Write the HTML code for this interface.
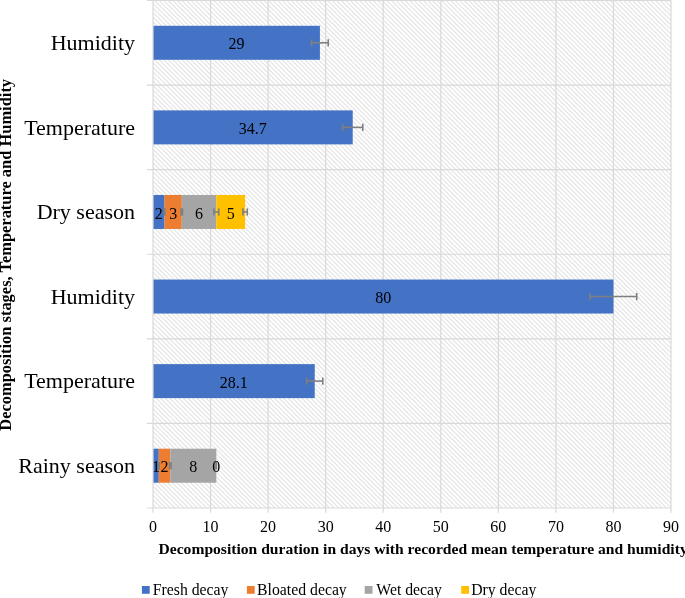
<!DOCTYPE html><html><head><meta charset="utf-8"><style>html,body{margin:0;padding:0;background:#fff;}svg{display:block;will-change:transform;}text{font-family:"Liberation Serif",serif;}</style></head><body>
<svg width="685" height="598" viewBox="0 0 685 598">
<defs><pattern id="h" patternUnits="userSpaceOnUse" width="10" height="3.22" patternTransform="rotate(45)"><rect x="0" y="0" width="10" height="3.22" fill="#fff"/><rect x="0" y="0" width="10" height="1.0" fill="#dfdfdf"/></pattern></defs>
<rect x="153.0" y="0.5" width="518.0" height="507.5" fill="url(#h)"/>
<line x1="210.56" y1="0.5" x2="210.56" y2="508.0" stroke="#d9d9d9" stroke-width="1.2"/>
<line x1="268.11" y1="0.5" x2="268.11" y2="508.0" stroke="#d9d9d9" stroke-width="1.2"/>
<line x1="325.67" y1="0.5" x2="325.67" y2="508.0" stroke="#d9d9d9" stroke-width="1.2"/>
<line x1="383.22" y1="0.5" x2="383.22" y2="508.0" stroke="#d9d9d9" stroke-width="1.2"/>
<line x1="440.78" y1="0.5" x2="440.78" y2="508.0" stroke="#d9d9d9" stroke-width="1.2"/>
<line x1="498.33" y1="0.5" x2="498.33" y2="508.0" stroke="#d9d9d9" stroke-width="1.2"/>
<line x1="555.89" y1="0.5" x2="555.89" y2="508.0" stroke="#d9d9d9" stroke-width="1.2"/>
<line x1="613.44" y1="0.5" x2="613.44" y2="508.0" stroke="#d9d9d9" stroke-width="1.2"/>
<line x1="671.00" y1="0.5" x2="671.00" y2="508.0" stroke="#d9d9d9" stroke-width="1.2"/>
<line x1="147" y1="0.50" x2="671.0" y2="0.50" stroke="#d9d9d9" stroke-width="1.2"/>
<line x1="147" y1="85.08" x2="671.0" y2="85.08" stroke="#d9d9d9" stroke-width="1.2"/>
<line x1="147" y1="169.67" x2="671.0" y2="169.67" stroke="#d9d9d9" stroke-width="1.2"/>
<line x1="147" y1="254.25" x2="671.0" y2="254.25" stroke="#d9d9d9" stroke-width="1.2"/>
<line x1="147" y1="338.83" x2="671.0" y2="338.83" stroke="#d9d9d9" stroke-width="1.2"/>
<line x1="147" y1="423.42" x2="671.0" y2="423.42" stroke="#d9d9d9" stroke-width="1.2"/>
<line x1="147" y1="508.00" x2="671.0" y2="508.00" stroke="#d9d9d9" stroke-width="1.2"/>
<line x1="153.00" y1="508.0" x2="153.00" y2="512.7" stroke="#d9d9d9" stroke-width="1.2"/>
<line x1="210.56" y1="508.0" x2="210.56" y2="512.7" stroke="#d9d9d9" stroke-width="1.2"/>
<line x1="268.11" y1="508.0" x2="268.11" y2="512.7" stroke="#d9d9d9" stroke-width="1.2"/>
<line x1="325.67" y1="508.0" x2="325.67" y2="512.7" stroke="#d9d9d9" stroke-width="1.2"/>
<line x1="383.22" y1="508.0" x2="383.22" y2="512.7" stroke="#d9d9d9" stroke-width="1.2"/>
<line x1="440.78" y1="508.0" x2="440.78" y2="512.7" stroke="#d9d9d9" stroke-width="1.2"/>
<line x1="498.33" y1="508.0" x2="498.33" y2="512.7" stroke="#d9d9d9" stroke-width="1.2"/>
<line x1="555.89" y1="508.0" x2="555.89" y2="512.7" stroke="#d9d9d9" stroke-width="1.2"/>
<line x1="613.44" y1="508.0" x2="613.44" y2="512.7" stroke="#d9d9d9" stroke-width="1.2"/>
<line x1="671.00" y1="508.0" x2="671.00" y2="512.7" stroke="#d9d9d9" stroke-width="1.2"/>
<rect x="153.00" y="25.79" width="166.91" height="34.0" fill="#4472C4"/>
<g stroke="#7f7f7f" stroke-width="1.6" fill="none"><line x1="311.57" y1="42.79" x2="328.26" y2="42.79"/><line x1="311.57" y1="39.19" x2="311.57" y2="46.39"/><line x1="328.26" y1="39.19" x2="328.26" y2="46.39"/></g>
<text x="236.46" y="49.39" font-size="16" text-anchor="middle" fill="#000">29</text>
<rect x="153.00" y="110.38" width="199.72" height="34.0" fill="#4472C4"/>
<g stroke="#7f7f7f" stroke-width="1.6" fill="none"><line x1="342.65" y1="127.38" x2="362.79" y2="127.38"/><line x1="342.65" y1="123.78" x2="342.65" y2="130.97"/><line x1="362.79" y1="123.78" x2="362.79" y2="130.97"/></g>
<text x="252.86" y="133.97" font-size="16" text-anchor="middle" fill="#000">34.7</text>
<rect x="153.00" y="194.96" width="11.51" height="34.0" fill="#4472C4"/>
<rect x="164.51" y="194.96" width="17.27" height="34.0" fill="#ED7D31"/>
<rect x="181.78" y="194.96" width="34.53" height="34.0" fill="#A5A5A5"/>
<rect x="216.31" y="194.96" width="28.78" height="34.0" fill="#FFC000"/>
<g stroke="#7f7f7f" stroke-width="1.6" fill="none"><line x1="164.17" y1="211.96" x2="164.86" y2="211.96"/><line x1="164.17" y1="208.36" x2="164.17" y2="215.56"/><line x1="164.86" y1="208.36" x2="164.86" y2="215.56"/></g>
<g stroke="#7f7f7f" stroke-width="1.6" fill="none"><line x1="181.09" y1="211.96" x2="182.47" y2="211.96"/><line x1="181.09" y1="208.36" x2="181.09" y2="215.56"/><line x1="182.47" y1="208.36" x2="182.47" y2="215.56"/></g>
<g stroke="#7f7f7f" stroke-width="1.6" fill="none"><line x1="213.89" y1="211.96" x2="218.73" y2="211.96"/><line x1="213.89" y1="208.36" x2="213.89" y2="215.56"/><line x1="218.73" y1="208.36" x2="218.73" y2="215.56"/></g>
<g stroke="#7f7f7f" stroke-width="1.6" fill="none"><line x1="242.90" y1="211.96" x2="247.28" y2="211.96"/><line x1="242.90" y1="208.36" x2="242.90" y2="215.56"/><line x1="247.28" y1="208.36" x2="247.28" y2="215.56"/></g>
<text x="158.76" y="218.56" font-size="16" text-anchor="middle" fill="#000">2</text>
<text x="173.14" y="218.56" font-size="16" text-anchor="middle" fill="#000">3</text>
<text x="199.04" y="218.56" font-size="16" text-anchor="middle" fill="#000">6</text>
<text x="230.70" y="218.56" font-size="16" text-anchor="middle" fill="#000">5</text>
<rect x="153.00" y="279.54" width="460.44" height="34.0" fill="#4472C4"/>
<g stroke="#7f7f7f" stroke-width="1.6" fill="none"><line x1="590.13" y1="296.54" x2="636.75" y2="296.54"/><line x1="590.13" y1="292.94" x2="590.13" y2="300.14"/><line x1="636.75" y1="292.94" x2="636.75" y2="300.14"/></g>
<text x="383.22" y="303.14" font-size="16" text-anchor="middle" fill="#000">80</text>
<rect x="153.00" y="364.12" width="161.73" height="34.0" fill="#4472C4"/>
<g stroke="#7f7f7f" stroke-width="1.6" fill="none"><line x1="306.67" y1="381.12" x2="322.79" y2="381.12"/><line x1="306.67" y1="377.52" x2="306.67" y2="384.73"/><line x1="322.79" y1="377.52" x2="322.79" y2="384.73"/></g>
<text x="233.87" y="387.73" font-size="16" text-anchor="middle" fill="#000">28.1</text>
<rect x="153.00" y="448.71" width="5.76" height="34.0" fill="#4472C4"/>
<rect x="158.76" y="448.71" width="11.51" height="34.0" fill="#ED7D31"/>
<rect x="170.27" y="448.71" width="46.04" height="34.0" fill="#A5A5A5"/>
<g stroke="#7f7f7f" stroke-width="1.6" fill="none"><line x1="158.41" y1="465.71" x2="159.10" y2="465.71"/><line x1="158.41" y1="462.11" x2="158.41" y2="469.31"/><line x1="159.10" y1="462.11" x2="159.10" y2="469.31"/></g>
<g stroke="#7f7f7f" stroke-width="1.6" fill="none"><line x1="169.58" y1="465.71" x2="170.96" y2="465.71"/><line x1="169.58" y1="462.11" x2="169.58" y2="469.31"/><line x1="170.96" y1="462.11" x2="170.96" y2="469.31"/></g>
<g stroke="#7f7f7f" stroke-width="1.6" fill="none"><line x1="216.31" y1="465.71" x2="216.31" y2="465.71"/><line x1="216.31" y1="462.11" x2="216.31" y2="469.31"/><line x1="216.31" y1="462.11" x2="216.31" y2="469.31"/></g>
<text x="155.88" y="472.31" font-size="16" text-anchor="middle" fill="#000">1</text>
<text x="164.51" y="472.31" font-size="16" text-anchor="middle" fill="#000">2</text>
<text x="193.29" y="472.31" font-size="16" text-anchor="middle" fill="#000">8</text>
<text x="216.31" y="472.31" font-size="16" text-anchor="middle" fill="#000">0</text>
<line x1="153.0" y1="0.5" x2="153.0" y2="508.0" stroke="#d9d9d9" stroke-width="1.2"/>
<text x="135" y="50.09" font-size="22" text-anchor="end" fill="#000">Humidity</text>
<text x="135" y="134.68" font-size="22" text-anchor="end" fill="#000">Temperature</text>
<text x="135" y="219.26" font-size="22" text-anchor="end" fill="#000">Dry season</text>
<text x="135" y="303.84" font-size="22" text-anchor="end" fill="#000">Humidity</text>
<text x="135" y="388.43" font-size="22" text-anchor="end" fill="#000">Temperature</text>
<text x="135" y="473.01" font-size="22" text-anchor="end" fill="#000">Rainy season</text>
<text x="153.00" y="531.8" font-size="16" text-anchor="middle" fill="#000">0</text>
<text x="210.56" y="531.8" font-size="16" text-anchor="middle" fill="#000">10</text>
<text x="268.11" y="531.8" font-size="16" text-anchor="middle" fill="#000">20</text>
<text x="325.67" y="531.8" font-size="16" text-anchor="middle" fill="#000">30</text>
<text x="383.22" y="531.8" font-size="16" text-anchor="middle" fill="#000">40</text>
<text x="440.78" y="531.8" font-size="16" text-anchor="middle" fill="#000">50</text>
<text x="498.33" y="531.8" font-size="16" text-anchor="middle" fill="#000">60</text>
<text x="555.89" y="531.8" font-size="16" text-anchor="middle" fill="#000">70</text>
<text x="613.44" y="531.8" font-size="16" text-anchor="middle" fill="#000">80</text>
<text x="671.00" y="531.8" font-size="16" text-anchor="middle" fill="#000">90</text>
<text x="158.5" y="553.9" font-size="15.6" font-weight="bold" fill="#000">Decomposition duration in days with recorded mean temperature and humidity</text>
<text transform="translate(11.3,254.8) rotate(-90)" x="0" y="0" font-size="16.45" font-weight="bold" text-anchor="middle" fill="#000">Decomposition stages, Temperature and Humidity</text>
<rect x="141.9" y="586" width="7.8" height="7.8" fill="#4472C4"/>
<text x="152.79999999999998" y="594.9" font-size="15.75" fill="#000">Fresh decay</text>
<rect x="246.9" y="586" width="7.8" height="7.8" fill="#ED7D31"/>
<text x="257.09999999999997" y="594.9" font-size="15.75" fill="#000">Bloated decay</text>
<rect x="364.7" y="586" width="7.8" height="7.8" fill="#A5A5A5"/>
<text x="376.3" y="594.9" font-size="15.75" fill="#000">Wet decay</text>
<rect x="461.2" y="586" width="7.8" height="7.8" fill="#FFC000"/>
<text x="471.2" y="594.9" font-size="15.75" fill="#000">Dry decay</text>
</svg></body></html>
